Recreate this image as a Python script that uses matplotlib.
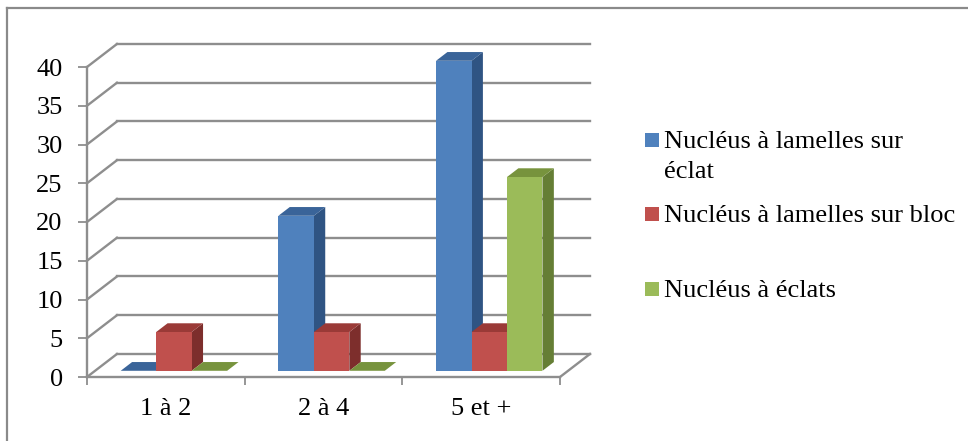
import numpy as np
import matplotlib.pyplot as plt
from matplotlib.patches import Polygon, Rectangle
from matplotlib.lines import Line2D

plt.rcParams['font.family'] = ['Liberation Serif', 'DejaVu Serif']

categories = ['1 à 2', '2 à 4', '5 et +']
series_names = ['Nucléus à lamelles sur\néclat', 'Nucléus à lamelles sur bloc', 'Nucléus à éclats']
values = [
    [0, 20, 40],   # lamelles sur éclat
    [5, 5, 5],     # lamelles sur bloc
    [0, 0, 25],    # éclats
]
yticks = list(range(0, 45, 5))

front_cols = ['#4F81BD', '#C0504D', '#9BBB59']
top_cols = ['#3A6499', '#9A3A37', '#77933D']
side_cols = ['#2F5483', '#7D2E2C', '#657E35']
grid_col = '#8E8E8E'

# oblique "3d" depth, in data units
DX = 0.190
DY = 2.97
z_front, z_back = 0.27, 0.65
bar_w = 0.225

def proj(x, v, z):
    return (x + z * DX, v + z * DY)

fig = plt.figure(figsize=(9.68, 4.41), dpi=100)
ax = fig.add_axes([87/968, 64/441, 473/968, 310/441])
ax.set_xlim(0, 3)
ax.set_ylim(0, 40)
ax.patch.set_visible(False)

# walls: back gridlines + left wall lines
for v in yticks:
    a, b = proj(0, v, 1), proj(3, v, 1)
    ax.add_line(Line2D([a[0], b[0]], [a[1], b[1]], color=grid_col, lw=1.7, clip_on=False, zorder=1))
    c = proj(0, v, 0)
    ax.add_line(Line2D([c[0], a[0]], [c[1], a[1]], color=grid_col, lw=1.7, clip_on=False, zorder=1))
# floor right edge
a, b = proj(3, 0, 0), proj(3, 0, 1)
ax.add_line(Line2D([a[0], b[0]], [a[1], b[1]], color=grid_col, lw=1.7, clip_on=False, zorder=1))

# bars, left to right
for i in range(len(categories)):
    x_start = i + 0.5 - 1.5 * bar_w
    for s in range(len(series_names)):
        x0 = x_start + s * bar_w
        x1 = x0 + bar_w
        v = values[s][i]
        top = [proj(x0, v, z_front), proj(x1, v, z_front), proj(x1, v, z_back), proj(x0, v, z_back)]
        side = [proj(x1, 0, z_front), proj(x1, 0, z_back), proj(x1, v, z_back), proj(x1, v, z_front)]
        front = [proj(x0, 0, z_front), proj(x1, 0, z_front), proj(x1, v, z_front), proj(x0, v, z_front)]
        z = 3 + i * 3 + s * 0.3
        if v > 0:
            ax.add_patch(Polygon(side, closed=True, fc=side_cols[s], ec='none', clip_on=False, zorder=z))
        ax.add_patch(Polygon(top, closed=True, fc=top_cols[s], ec='none', clip_on=False, zorder=z + 0.1))
        if v > 0:
            ax.add_patch(Polygon(front, closed=True, fc=front_cols[s], ec='none', clip_on=False, zorder=z + 0.2))

for sp in ['top', 'right']:
    ax.spines[sp].set_visible(False)
for sp in ['left', 'bottom']:
    ax.spines[sp].set_color(grid_col)
    ax.spines[sp].set_linewidth(1.7)
    ax.spines[sp].set_zorder(2)

ax.set_yticks(yticks)
ax.tick_params(axis='y', direction='out', length=6.5, width=1.3, color=grid_col,
               labelsize=19, pad=11, labelcolor='black')
ax.set_xticks([0.5, 1.5, 2.5])
ax.set_xticklabels(categories)
ax.set_xticks([0, 1, 2, 3], minor=True)
ax.tick_params(axis='x', which='major', length=0, labelsize=19, pad=15)
ax.tick_params(axis='x', which='minor', direction='out', length=6, width=1.3, color=grid_col)

# legend
leg_y = [139.5, 213.5, 288.5]
for s, name in enumerate(series_names):
    fig.patches.append(Rectangle((645/968, 1 - (leg_y[s] + 7)/441), 14/968, 14/441,
                                 transform=fig.transFigure, fc=front_cols[s], ec='none'))
    for k, line in enumerate(name.split('\n')):
        fig.text(664/968, 1 - (leg_y[s] + 30 * k)/441, line, fontsize=19,
                 va='center_baseline', ha='left')

# chart border (only left and top visible)
fig.add_artist(Line2D([7/968, 7/968], [0, 1 - 8/441], transform=fig.transFigure, color='#8A8A8A', lw=1.6))
fig.add_artist(Line2D([7/968, 1], [1 - 8/441, 1 - 8/441], transform=fig.transFigure, color='#8A8A8A', lw=1.6))

plt.savefig('out.png', dpi=100)
